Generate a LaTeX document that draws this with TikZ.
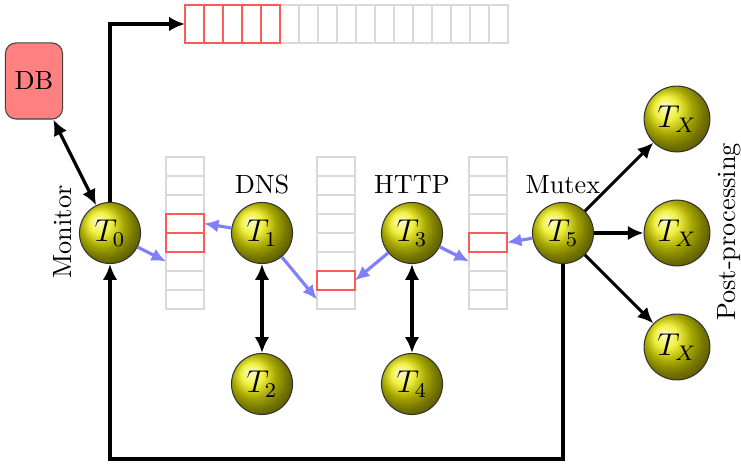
\documentclass[tikz,border=0pt]{standalone}
\usetikzlibrary{arrows.meta}
\begin{document}
\begin{tikzpicture}[x=0.38pt,y=-0.38pt,
 thread/.style={circle,ball color=yellow!92!black,draw=black!80,line width=0.4pt,minimum size=23.2pt,inner sep=0pt,font=\large},
 tx/.style={thread,minimum size=25pt},
 vcell/.style={draw=black!15,line width=0.45pt,minimum width=14.44pt,minimum height=7.22pt,inner sep=0pt,outer sep=0pt},
 hcell/.style={vcell,minimum width=7.22pt,minimum height=14.44pt},
 hot/.style={draw=red!65},
 ctl/.style={line width=1.2pt,-{Latex[length=6pt,width=5.5pt]}},
 ctlb/.style={line width=1.2pt,{Latex[length=6pt,width=5.5pt]}-{Latex[length=6pt,width=5.5pt]}},
 flow/.style={draw=blue!50,line width=1.2pt,-{Latex[length=5.5pt,width=5pt]}},
 dbbox/.style={draw=black!75,fill=red!50,rounded corners=4pt,minimum width=21.7pt,minimum height=28.9pt,inner sep=0pt}
]
\useasboundingbox (0,0) rectangle (741,464);

% queues
\foreach \i in {1,...,17} \node[hcell] (tq-\i) at ({175.5+19*\i},24) {};
\foreach \i in {1,...,8} {
  \node[vcell] (qa-\i) at (185,{147.5+19*\i}) {};
  \node[vcell] (qb-\i) at (336,{147.5+19*\i}) {};
  \node[vcell] (qc-\i) at (488,{147.5+19*\i}) {};
}
\foreach \i in {1,...,5} \node[hcell,hot] (tqh-\i) at (tq-\i) {};
\node[vcell,hot] (qah-4) at (qa-4) {};
\node[vcell,hot] (qah-5) at (qa-5) {};
\node[vcell,hot] (qbh-7) at (qb-7) {};
\node[vcell,hot] (qch-5) at (qc-5) {};

% nodes
\node[dbbox] (db) at (34,81) {DB};
\node[thread] (t0) at (110,233) {$T_0$};
\node[thread] (t1) at (262,233) {$T_1$};
\node[thread] (t2) at (262,384) {$T_2$};
\node[thread] (t3) at (412,233) {$T_3$};
\node[thread] (t4) at (412,384) {$T_4$};
\node[thread] (t5) at (563,233) {$T_5$};
\node[tx] (tx1) at (677,119) {$T_X$};
\node[tx] (tx2) at (677,233) {$T_X$};
\node[tx] (tx3) at (677,347) {$T_X$};

% labels
\node (dns) at (262,185) {DNS};
\node (http) at (412,185) {HTTP};
\node (mutex) at (563,185) {Mutex};
\node[rotate=90] (mon) at (63,232) {Monitor};
\node[rotate=90] (post) at (729,232) {Post-processing};

% control connectors
\coordinate (loop) at (0,459);
\draw[ctlb] (db) -- (t0);
\draw[ctl] (t0) |- (tq-1.west);
\draw[ctl] (t5) |- (loop -| t0) -- (t0);
\draw[ctlb] (t1) -- (t2);
\draw[ctlb] (t3) -- (t4);
\draw[ctl] (t5) -- (tx1);
\draw[ctl] (t5) -- (tx2);
\draw[ctl] (t5) -- (tx3);

% data flow
\draw[flow] (t0) -- (qa-6.west);
\draw[flow] (t1) -- (qa-4.east);
\draw[flow] (t1) -- (qb-8.west);
\draw[flow] (t3) -- (qb-7.east);
\draw[flow] (t3) -- (qc-6.west);
\draw[flow] (t5) -- (qc-5.east);
\end{tikzpicture}
\end{document}
